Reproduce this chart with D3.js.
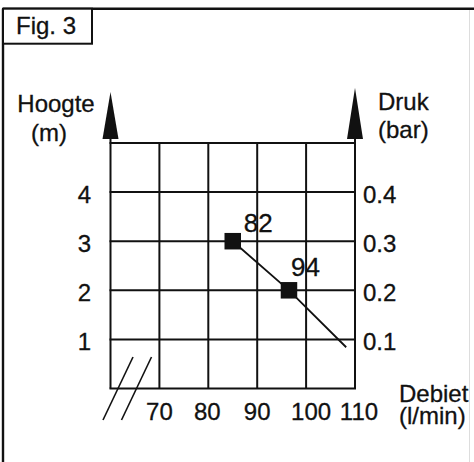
<!DOCTYPE html>
<html>
<head>
<meta charset="utf-8">
<script src="https://cdn.jsdelivr.net/npm/d3@7"></script>
<style>
  html, body { margin: 0; padding: 0; background: #fff; }
  svg { display: block; }
  text { font-family: "Liberation Sans", Arial, sans-serif; fill: #111; stroke: #111; stroke-width: 0.3px; }
</style>
</head>
<body>
<script>
// ---- data ----
const title = "Fig. 3";
const leftAxisTitle = ["Hoogte", "(m)"];
const rightAxisTitle = ["Druk", "(bar)"];
const xAxisTitle = ["Debiet", "(l/min)"];
const xTicks = [70, 80, 90, 100, 110];
const xTickLabels = ["70", "80", "90", "100", "110"];
const yTicks = [1, 2, 3, 4];
const yLeftLabels = ["1", "2", "3", "4"];
const yRightLabels = ["0.1", "0.2", "0.3", "0.4"];
const pointFlow = [85, 96.5];
const pointHeight = [3, 2];
const pointLabels = ["82", "94"];
const curveFlow = [85, 96.5, 108.2];
const curveHeight = [3, 2, 0.84];

// ---- layout ----
const W = 474, H = 462;
const svg = d3.select("body").append("svg").attr("width", W).attr("height", H);
svg.append("rect").attr("width", W).attr("height", H).attr("fill", "#fff");

const x = d3.scaleLinear().domain([60, 110]).range([110.5, 355]);
const y = d3.scaleLinear().domain([0, 5]).range([388.5, 143]);
const FS = 24;
const ink = "#111";

// outer frame
svg.append("line").attr("x1", 3).attr("x2", W).attr("y1", 8.7).attr("y2", 8.7)
  .attr("stroke", ink).attr("stroke-width", 2.4);
svg.append("line").attr("x1", 3).attr("x2", 3).attr("y1", 8.7).attr("y2", H)
  .attr("stroke", ink).attr("stroke-width", 2.4);
svg.append("line").attr("x1", 469.5).attr("x2", 469.5).attr("y1", 10).attr("y2", H)
  .attr("stroke", "#ddd").attr("stroke-width", 1);

// title box
svg.append("rect").attr("x", 3).attr("y", 8.7).attr("width", 89).attr("height", 35)
  .attr("fill", "#fff").attr("stroke", ink).attr("stroke-width", 2);
svg.append("text").attr("x", 16).attr("y", 34).attr("font-size", FS).text(title);

// grid
const g = svg.append("g");
const vLines = [60].concat(xTicks);
const hLines = [0].concat(yTicks).concat([5]);
g.selectAll("line.v").data(vLines).join("line").attr("class", "v")
  .attr("x1", d => x(d)).attr("x2", d => x(d))
  .attr("y1", y(0)).attr("y2", y(5))
  .attr("stroke", ink).attr("stroke-width", 2);
g.selectAll("line.h").data(hLines).join("line").attr("class", "h")
  .attr("x1", x(60) - 1).attr("x2", x(110) + 1)
  .attr("y1", d => y(d)).attr("y2", d => y(d))
  .attr("stroke", ink).attr("stroke-width", 2);

// axis arrows
function arrow(cx, tipOff) {
  const tip = y(5) - tipOff, base = y(5) - 4, hw = 8;
  svg.append("path")
    .attr("d", `M${cx},${tip} L${cx + hw},${base} L${cx - hw},${base} Z`)
    .attr("fill", ink);
  svg.append("line").attr("x1", cx).attr("x2", cx).attr("y1", base).attr("y2", y(5))
    .attr("stroke", ink).attr("stroke-width", 2);
}
arrow(x(60), 51);
arrow(x(110), 55);

// axis break slashes
[0, 18.5].forEach(off => {
  svg.append("line")
    .attr("x1", x(60) - 7.5 + off).attr("y1", y(0) + 31.5)
    .attr("x2", x(60) + 22.5 + off).attr("y2", y(0) - 31.5)
    .attr("stroke", ink).attr("stroke-width", 1.6);
});

// left tick labels
svg.selectAll("text.yl").data(yTicks).join("text").attr("class", "yl")
  .attr("x", x(60) - 26).attr("y", d => y(d) + 11)
  .attr("text-anchor", "middle").attr("font-size", FS)
  .text((d, i) => yLeftLabels[i]);
// right tick labels
svg.selectAll("text.yr").data(yTicks).join("text").attr("class", "yr")
  .attr("x", x(110) + 8).attr("y", d => y(d) + 11)
  .attr("text-anchor", "start").attr("font-size", FS)
  .text((d, i) => yRightLabels[i]);
// x tick labels
const xShift = [0, -1, 0, 5, 4];
svg.selectAll("text.xt").data(xTicks).join("text").attr("class", "xt")
  .attr("x", (d, i) => x(d) + xShift[i]).attr("y", 420)
  .attr("text-anchor", "middle").attr("font-size", FS)
  .text((d, i) => xTickLabels[i]);

// axis titles
svg.append("text").attr("x", 56).attr("y", 112).attr("text-anchor", "middle")
  .attr("font-size", FS).text(leftAxisTitle[0]);
svg.append("text").attr("x", 49).attr("y", 141).attr("text-anchor", "middle")
  .attr("font-size", FS).text(leftAxisTitle[1]);
svg.append("text").attr("x", 378).attr("y", 110).attr("font-size", FS).text(rightAxisTitle[0]);
svg.append("text").attr("x", 378).attr("y", 138).attr("font-size", FS).text(rightAxisTitle[1]);
svg.append("text").attr("x", 399).attr("y", 402).attr("font-size", FS).text(xAxisTitle[0]);
svg.append("text").attr("x", 399).attr("y", 424).attr("font-size", FS).text(xAxisTitle[1]);

// curve
const curve = curveFlow.map((f, i) => [x(f), y(curveHeight[i])]);
svg.append("path").attr("d", d3.line()(curve))
  .attr("fill", "none").attr("stroke", ink).attr("stroke-width", 1.8);

// markers
const pts = pointFlow.map((f, i) => ({ f, h: pointHeight[i], label: pointLabels[i] }));
const ms = 16.5;
svg.selectAll("rect.m").data(pts).join("rect").attr("class", "m")
  .attr("x", d => x(d.f) - ms / 2).attr("y", d => y(d.h) - ms / 2)
  .attr("width", ms).attr("height", ms).attr("fill", ink);
const labelOffset = [[11, -9], [2, -14]];
svg.selectAll("text.pl").data(pts).join("text").attr("class", "pl")
  .attr("x", (d, i) => x(d.f) + labelOffset[i][0])
  .attr("y", (d, i) => y(d.h) + labelOffset[i][1])
  .attr("font-size", 26).text(d => d.label);
</script>
</body>
</html>
